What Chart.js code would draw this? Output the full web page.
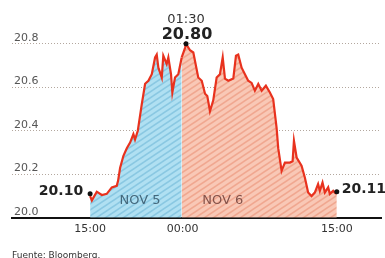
<!DOCTYPE html>
<html>
<head>
<meta charset="utf-8">
<script src="https://cdn.jsdelivr.net/npm/chart.js@4.4.1/dist/chart.umd.min.js"></script>
<style>
  html, body { margin: 0; padding: 0; background: #fff; }
  #wrap { width: 385px; height: 258px; position: relative; }
</style>
</head>
<body>
<div id="wrap"><canvas id="grafica"></canvas></div>
<script>
// horas desde las 15:00 del 5 de noviembre
var horas = [0, 0.17, 0.65, 1.14, 1.62, 2.11, 2.59, 2.72, 2.92, 3.24, 3.57, 3.89, 4.21, 4.37, 4.64,
  5.02, 5.35, 5.67, 6.00, 6.32, 6.48, 6.64, 6.97, 7.12, 7.45, 7.61, 7.87, 8.00, 8.26, 8.58, 8.91,
  9.23, 9.33, 9.72, 10.04, 10.52, 10.86, 11.18, 11.40, 11.66, 11.98, 12.31, 12.63, 12.90, 13.12,
  13.44, 13.93, 14.19, 14.41, 14.74, 15.06, 15.38, 15.71, 16.03, 16.36, 16.69, 17.10, 17.49, 17.81,
  18.14, 18.30, 18.63, 18.95, 19.44, 19.70, 19.83, 20.09, 20.57, 20.89, 21.21, 21.54, 21.86, 22.18,
  22.35, 22.61, 22.84, 23.16, 23.32, 23.65, 23.81, 24.0];
var valores = [20.10, 20.08, 20.12, 20.105, 20.11, 20.14, 20.147, 20.17, 20.23, 20.285, 20.32, 20.346, 20.385, 20.36, 20.40,
  20.52, 20.616, 20.63, 20.66, 20.737, 20.75, 20.69, 20.645, 20.745, 20.707, 20.737, 20.66, 20.576, 20.645, 20.66, 20.737,
  20.78, 20.80, 20.77, 20.76, 20.645, 20.63, 20.57, 20.56, 20.49, 20.54, 20.645, 20.66, 20.737, 20.64,
  20.63, 20.64, 20.745, 20.75, 20.69, 20.66, 20.63, 20.62, 20.584, 20.615, 20.584, 20.607, 20.576, 20.546,
  20.415, 20.32, 20.216, 20.254, 20.254, 20.26, 20.354, 20.277, 20.24, 20.185, 20.116, 20.10, 20.116, 20.155,
  20.124, 20.162, 20.116, 20.14, 20.11, 20.124, 20.116, 20.11];

var corteHora = 9; // 00:00
var ticksX = [0, 9, 24];
var etiquetasX = ['15:00', '00:00', '15:00'];
var ticksY = [20.0, 20.2, 20.4, 20.6, 20.8];

var marcaHoras = [0, 9.33, 24];
var marcaValores = [20.11, 20.80, 20.12];
var marcaTextos = ['20.10', '20.80', '20.11'];

var dias = ['NOV 5', 'NOV 6'];
var diaHoras = [4.86, 12.9];
var diaValor = 20.078;

function rayado(base, raya) {
  var w = 9, h = 6;
  var c = document.createElement('canvas');
  c.width = w; c.height = h;
  var g = c.getContext('2d');
  g.fillStyle = base;
  g.fillRect(0, 0, w, h);
  g.strokeStyle = raya;
  g.lineWidth = 1.6;
  for (var dx = -w; dx <= w; dx += w) {
    for (var dy = -h; dy <= h; dy += h) {
      g.beginPath();
      g.moveTo(dx, h + dy);
      g.lineTo(w + dx, dy);
      g.stroke();
    }
  }
  return g.createPattern(c, 'repeat');
}

var puntos = horas.map(function(hh, i) { return { x: hh, y: valores[i] }; });
var k = 0;
for (var i = 0; i < horas.length; i++) { if (horas[i] <= corteHora) k = i; }
var nov5 = puntos.slice(0, k + 1);
var nov6 = puntos.slice(k);
var marcas = marcaHoras.map(function(hh, i) { return { x: hh, y: marcaValores[i] }; });

var textos = {
  id: 'textos',
  afterDatasetsDraw: function(chart) {
    var c = chart.ctx, x = chart.scales.x, y = chart.scales.y;
    c.save();
    // etiquetas de dias
    c.font = '13px "DejaVu Sans"';
    c.textAlign = 'center';
    c.textBaseline = 'middle';
    c.fillStyle = '#44687c';
    c.fillText(dias[0], x.getPixelForValue(diaHoras[0]), y.getPixelForValue(diaValor));
    c.fillStyle = '#84524a';
    c.fillText(dias[1], x.getPixelForValue(diaHoras[1]), y.getPixelForValue(diaValor));

    // valores inicial, maximo y final
    c.fillStyle = '#222';
    c.font = 'bold 14px "DejaVu Sans"';
    c.textBaseline = 'alphabetic';
    c.textAlign = 'right';
    c.fillText(marcaTextos[0], x.getPixelForValue(marcaHoras[0]) - 7, y.getPixelForValue(marcaValores[0]) + 1);
    c.textAlign = 'left';
    c.fillText(marcaTextos[2], x.getPixelForValue(marcaHoras[2]) + 5, y.getPixelForValue(marcaValores[2]) + 1);
    var px = x.getPixelForValue(marcaHoras[1]), py = y.getPixelForValue(marcaValores[1]);
    c.textAlign = 'center';
    c.font = 'bold 16px "DejaVu Sans"';
    c.fillText(marcaTextos[1], px + 1, py - 5);
    c.font = '13px "DejaVu Sans"';
    c.fillStyle = '#333';
    c.fillText('01:30', px, py - 21);

    // fuente
    c.font = '9px "DejaVu Sans"';
    c.fillStyle = '#333';
    c.textAlign = 'left';
    c.textBaseline = 'top';
    c.fillText('Fuente: Bloomberg.', 12, 251);
    c.restore();
  }
};

var ctx = document.getElementById('grafica').getContext('2d');
new Chart(ctx, {
  type: 'line',
  data: {
    datasets: [
      {
        data: marcas,
        showLine: false,
        pointRadius: 2.5,
        pointBackgroundColor: '#111',
        pointBorderWidth: 0
      },
      {
        data: nov5,
        borderColor: '#e8321e',
        borderWidth: 2.2,
        pointRadius: 0,
        tension: 0,
        fill: 'start',
        backgroundColor: rayado('#b0e0f2', '#8ac8e2')
      },
      {
        data: nov6,
        borderColor: '#e8321e',
        borderWidth: 2.2,
        pointRadius: 0,
        tension: 0,
        fill: 'start',
        backgroundColor: rayado('#f9c8b6', '#f0a790')
      }
    ]
  },
  options: {
    responsive: true,
    maintainAspectRatio: false,
    animation: false,
    clip: false,
    layout: { padding: { left: 8, right: 0, top: 22, bottom: 17 } },
    plugins: { legend: { display: false }, tooltip: { enabled: false } },
    scales: {
      x: {
        type: 'linear',
        min: -7.6,
        max: 28.3,
        afterBuildTicks: function(s) { s.ticks = ticksX.map(function(v) { return { value: v }; }); },
        grid: { display: false, drawTicks: false },
        border: { display: true, color: '#111', width: 2 },
        ticks: {
          padding: 5,
          color: '#333',
          font: { family: 'DejaVu Sans', size: 11 },
          callback: function(v) { return etiquetasX[ticksX.indexOf(v)]; }
        }
      },
      y: {
        min: 20.0,
        max: 20.9,
        afterBuildTicks: function(s) { s.ticks = ticksY.map(function(v) { return { value: v }; }); },
        grid: {
          drawTicks: false,
          color: function(c) { return c.index === 0 ? 'rgba(0,0,0,0)' : '#b3a79e'; },
          lineWidth: 1
        },
        border: { display: false, dash: [1, 2] },
        ticks: {
          mirror: true,
          padding: 2,
          labelOffset: -6,
          color: '#555',
          font: { family: 'DejaVu Sans', size: 11 },
          callback: function(v) { return v.toFixed(1); }
        }
      }
    }
  },
  plugins: [textos]
});
</script>
</body>
</html>
